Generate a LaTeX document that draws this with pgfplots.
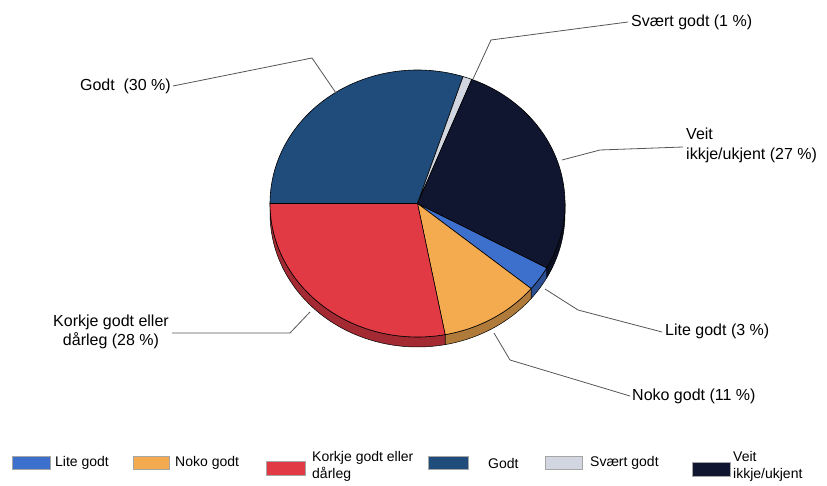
\documentclass[border=0pt]{standalone}
\usepackage{pgfplots}
\usepackage{pgfplotstable}
\pgfplotsset{compat=1.18}
\usepackage{fontspec}
\setmainfont{Liberation Sans}
\definecolor{cLite}{HTML}{3D6FCC}
\definecolor{cNoko}{HTML}{F4AB50}
\definecolor{cKorkje}{HTML}{E23A45}
\definecolor{cGodt}{HTML}{204C7C}
\definecolor{cSvaert}{HTML}{D2D6E0}
\definecolor{cVeit}{HTML}{10162F}
\definecolor{leadc}{HTML}{555555}
\pgfplotstableread{
label pct col
Lite 3 cLite
Noko 11 cNoko
Korkje 28 cKorkje
Godt 30 cGodt
Svaert 1 cSvaert
Veit 27 cVeit
}\piedata
\def\rx{147.5pt}
\def\ry{133.5pt}
\def\th{10pt}
\def\startang{-28.8}
\newcommand\sideband[3]{%
  \fill[#3!72!black, draw=black, line width=0.5pt, shift={(C)}]
    (#2:\rx\space and \ry) -- ++(0pt,-\th)
    arc[start angle=#2, end angle=#1, x radius=\rx, y radius=\ry]
    -- ++(0pt,\th)
    arc[start angle=#1, end angle=#2, x radius=\rx, y radius=\ry] -- cycle;}
\newcommand\piewedge[3]{%
  \fill[#3, draw=black, line width=0.6pt, shift={(C)}]
    (0pt,0pt) -- (#1:\rx\space and \ry)
    arc[start angle=#1, end angle=#2, x radius=\rx, y radius=\ry] -- cycle;}
\begin{document}
\begin{tikzpicture}
\gdef\cum{0}%
\gdef\topcmds{}%
\gdef\sidecmds{}%
\pgfplotstablegetrowsof{\piedata}%
\pgfmathtruncatemacro\lastrow{\pgfplotsretval-1}%
\foreach \i in {0,...,\lastrow}{%
  \pgfplotstablegetelem{\i}{pct}\of\piedata \let\curp\pgfplotsretval
  \pgfplotstablegetelem{\i}{col}\of\piedata \edef\curcol{\pgfplotsretval}%
  \pgfmathsetmacro\sA{\startang-3.6*\cum}%
  \pgfmathsetmacro\eA{\startang-3.6*(\cum+\curp)}%
  \pgfmathsetmacro\newcum{\cum+\curp}%
  \xdef\cum{\newcum}%
  \xdef\topcmds{\unexpanded\expandafter{\topcmds}\noexpand\piewedge{\sA}{\eA}{\curcol}}%
  \pgfmathsetmacro\loA{max(\eA,-180)}%
  \pgfmathsetmacro\hiA{min(\sA,0)}%
  \pgfmathsetmacro\loB{max(\eA,-540)}%
  \pgfmathsetmacro\hiB{min(\sA,-360)}%
  \ifdim\hiA pt>\loA pt
    \xdef\sidecmds{\unexpanded\expandafter{\sidecmds}\noexpand\sideband{\loA}{\hiA}{\curcol}}%
  \fi
  \ifdim\hiB pt>\loB pt
    \xdef\sidecmds{\unexpanded\expandafter{\sidecmds}\noexpand\sideband{\loB}{\hiB}{\curcol}}%
  \fi
}%
\begin{axis}[width=827pt,height=486pt,scale only axis,
  xmin=0,xmax=827,ymin=0,ymax=486,y dir=reverse,hide axis,clip=false]
\coordinate (C) at (axis cs:417.5,203.5);
\sidecmds
\topcmds
% leader lines
\draw[draw=leadc, line width=0.8pt] (axis cs:173,86) -- (axis cs:312,58) -- (axis cs:336,93);
\draw[draw=leadc, line width=0.8pt] (axis cs:628,22) -- (axis cs:491,40) -- (axis cs:473,79);
\draw[draw=leadc, line width=0.8pt] (axis cs:683,147) -- (axis cs:600,150) -- (axis cs:562,160);
\draw[draw=leadc, line width=0.8pt] (axis cs:662,332) -- (axis cs:578,310) -- (axis cs:545,289);
\draw[draw=leadc, line width=0.8pt] (axis cs:630,396) -- (axis cs:510,360) -- (axis cs:494,333);
\draw[draw=leadc, line width=0.8pt] (axis cs:172,333) -- (axis cs:290,333) -- (axis cs:310,312);
% labels
\node[font=\fontsize{16}{19}\selectfont, inner sep=0pt, anchor=east] at (axis cs:171,86) {Godt\ \ (30 \%)};
\node[font=\fontsize{16}{19}\selectfont, inner sep=0pt, anchor=west] at (axis cs:631,22) {Svært godt (1 \%)};
\node[font=\fontsize{16}{20}\selectfont, inner sep=0pt, anchor=west, align=left] at (axis cs:686,145) {Veit\\ikkje/ukjent (27 \%)};
\node[font=\fontsize{16}{19}\selectfont, inner sep=0pt, anchor=west] at (axis cs:665,331) {Lite godt (3 \%)};
\node[font=\fontsize{16}{19}\selectfont, inner sep=0pt, anchor=west] at (axis cs:632,396) {Noko godt (11 \%)};
\node[font=\fontsize{16}{19}\selectfont, inner sep=0pt, anchor=east, align=center] at (axis cs:169,332) {Korkje godt eller\\dårleg (28 \%)};
% legend
\fill[cLite, draw=gray!70, line width=0.5pt] (axis cs:12,456) rectangle (axis cs:50,469);
\node[font=\fontsize{14}{17}\selectfont, inner sep=0pt, anchor=west] at (axis cs:55,463) {Lite godt};
\fill[cNoko, draw=gray!70, line width=0.5pt] (axis cs:133,456) rectangle (axis cs:169,469);
\node[font=\fontsize{14}{17}\selectfont, inner sep=0pt, anchor=west] at (axis cs:175,463) {Noko godt};
\fill[cKorkje, draw=gray!70, line width=0.5pt] (axis cs:266,461) rectangle (axis cs:305,475);
\node[font=\fontsize{14}{17}\selectfont, inner sep=0pt, anchor=west, align=left] at (axis cs:312,466) {Korkje godt eller\\dårleg};
\fill[cGodt, draw=gray!70, line width=0.5pt] (axis cs:428,456) rectangle (axis cs:468,469);
\node[font=\fontsize{14}{17}\selectfont, inner sep=0pt, anchor=west] at (axis cs:488,463) {Godt};
\fill[cSvaert, draw=gray!70, line width=0.5pt] (axis cs:545,456) rectangle (axis cs:582,469);
\node[font=\fontsize{14}{17}\selectfont, inner sep=0pt, anchor=west] at (axis cs:590,463) {Svært godt};
\fill[cVeit, draw=gray!70, line width=0.5pt] (axis cs:692,462) rectangle (axis cs:730,476);
\node[font=\fontsize{14}{17}\selectfont, inner sep=0pt, anchor=west, align=left] at (axis cs:733,466) {Veit\\ikkje/ukjent};
\end{axis}
\pgfresetboundingbox
\path[use as bounding box] (0pt,0pt) rectangle (827pt,486pt);
\end{tikzpicture}
\end{document}
